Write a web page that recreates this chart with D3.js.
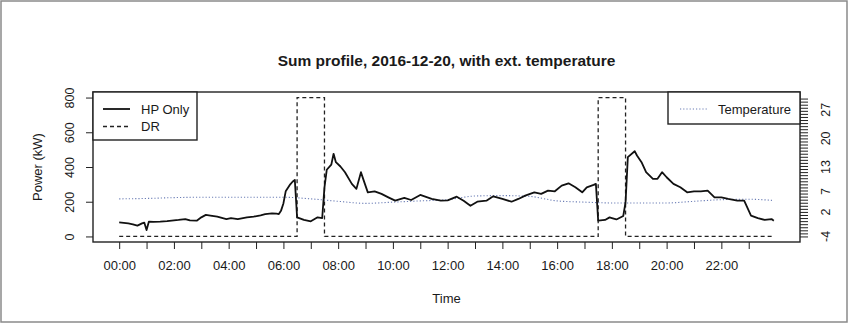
<!DOCTYPE html>
<html lang="en">
  <head>
    <meta charset="UTF-8" />
    <script src="https://d3js.org/d3.v7.min.js"></script>
    <title>Sum profile</title>
    <style>
      body { margin: 0; background: #fff; }
      text { font-family: "Liberation Sans", Arial, sans-serif; fill: #1a1a1a; }
    </style>
  </head>
  <body>
    <svg id="chart" width="849" height="325"></svg>
    <script>
      // HP Only profile (kW)
      const hpTimes = [
        "00:00","00:10","00:20","00:30","00:40","00:50","00:55","01:00","01:05","01:15",
        "01:30","01:45","01:55","02:10","02:25","02:35","02:50","03:00","03:10","03:20",
        "03:35","03:55","04:05","04:20","04:40","04:55","05:10","05:20","05:35","05:45",
        "05:50","05:55","06:00","06:05","06:15","06:20","06:25","06:30","06:45","07:00",
        "07:15","07:25","07:30","07:35","07:45","07:50","07:55","08:05","08:15","08:30",
        "08:40","08:50","08:55","09:05","09:20","09:35","09:50","10:05","10:25","10:40",
        "11:00","11:25","11:45","12:00","12:20","12:35","12:50","13:05","13:25","13:40",
        "14:00","14:20","14:35","14:50","15:10","15:25","15:40","15:55","16:10","16:25",
        "16:40","16:55","17:05","17:20","17:25","17:30","17:45","17:55","18:00","18:10",
        "18:25","18:30","18:35","18:50","18:55","19:05","19:15","19:30","19:40","19:50",
        "20:00","20:15","20:30","20:45","21:00","21:15","21:30","21:45","22:00","22:15",
        "22:35","22:50","22:55","23:05","23:20","23:35","23:50","23:55"
      ];
      const hpValues = [
        81, 78, 75, 70, 62, 75, 80, 37, 85, 84,
        85, 88, 91, 95, 100, 92, 91, 110, 124, 120,
        114, 100, 106, 100, 110, 114, 122, 129, 133, 131,
        129, 150, 190, 260, 300, 315, 326, 110, 95, 87,
        110, 106, 283, 384, 414, 476, 428, 403, 370, 303,
        274, 370, 330, 254, 260, 245, 225, 206, 222, 210,
        239, 216, 206, 208, 229, 206, 177, 200, 206, 231,
        216, 200, 216, 235, 254, 245, 264, 260, 293, 306,
        283, 254, 283, 297, 303, 91, 95, 110, 106, 98,
        118, 197, 457, 491, 466, 428, 370, 332, 332, 370,
        341, 303, 283, 254, 260, 260, 264, 225, 225, 216,
        206, 206, 177, 120, 106, 95, 100, 91
      ];

      // DR signal (steps)
      const drTimes = ["00:00", "06:30", "07:30", "17:30", "18:30", "23:55"];
      const drValues = [0, 800, 0, 800, 0, 0];

      // external temperature (deg C)
      const tempTimes = [
        "00:00","01:00","02:00","03:00","04:00","05:00","06:00","07:00","08:00","09:00",
        "10:00","11:00","12:00","13:00","14:00","15:00","16:00","17:00","18:00","19:00",
        "20:00","21:00","22:00","23:00","23:55"
      ];
      const tempValues = [
        5.2, 5.3, 5.5, 5.6, 5.6, 5.6, 5.6, 5.2, 4.6, 4.1,
        4.4, 4.7, 5.0, 5.9, 6.0, 5.8, 4.7, 4.4, 4.2, 4.2,
        4.2, 4.6, 5.0, 5.1, 4.8
      ];

      const powerTicks = [0, 200, 400, 600, 800];
      const tempTickLabels = [-4, 2, 7, 13, 20, 27];
      const tempRange = [-4, 30];

      const toHours = (s) => +s.slice(0, 2) + +s.slice(3) / 60;

      const box = { left: 93, right: 800, top: 92, bottom: 242 };

      // R style 4% padding on each side
      const pad = (lo, hi) => [lo - (hi - lo) * 0.04, hi + (hi - lo) * 0.04];
      const xMax = toHours(hpTimes[hpTimes.length - 1]);

      const x = d3.scaleLinear().domain(pad(0, xMax)).range([box.left, box.right]);
      const y = d3.scaleLinear().domain(pad(0, 800)).range([box.bottom, box.top]);
      const yT = d3.scaleLinear().domain(pad(...tempRange)).range([box.bottom, box.top]);

      const svg = d3.select("#chart");

      // outer frame
      svg.append("rect")
        .attr("x", 1).attr("y", 1)
        .attr("width", 846).attr("height", 321)
        .attr("fill", "#fff")
        .attr("stroke", "#8a8a8a")
        .attr("stroke-width", 1.5);

      svg.append("text")
        .attr("x", (box.left + box.right) / 2)
        .attr("y", 66)
        .attr("text-anchor", "middle")
        .style("font-size", "15.5px")
        .style("font-weight", "bold")
        .text("Sum profile, 2016-12-20, with ext. temperature");

      // temperature (dotted, behind)
      const tempLine = d3.line()
        .x((d, i) => x(toHours(tempTimes[i])))
        .y((d) => yT(d))
        .curve(d3.curveMonotoneX);

      svg.append("path")
        .attr("d", tempLine(tempValues))
        .attr("fill", "none")
        .attr("stroke", "#6b7db5")
        .attr("stroke-width", 1.1)
        .attr("stroke-dasharray", "1.2,2");

      // DR signal, dashed
      const drLine = d3.line()
        .x((d, i) => x(toHours(drTimes[i])))
        .y((d) => y(d))
        .curve(d3.curveStepAfter);

      svg.append("path")
        .attr("d", drLine(drValues))
        .attr("fill", "none")
        .attr("stroke", "#222")
        .attr("stroke-width", 1.3)
        .attr("stroke-dasharray", "4,3");

      // HP Only profile
      const hpLine = d3.line()
        .x((d, i) => x(toHours(hpTimes[i])))
        .y((d) => y(d));

      svg.append("path")
        .attr("d", hpLine(hpValues))
        .attr("fill", "none")
        .attr("stroke", "#111")
        .attr("stroke-width", 1.8)
        .attr("stroke-linejoin", "round");

      // axes
      const hourTicks = d3.range(0, 24);
      const xAxis = svg.append("g")
        .attr("transform", `translate(0,${box.bottom})`)
        .call(
          d3.axisBottom(x)
            .tickValues(hourTicks)
            .tickSize(7)
            .tickPadding(12)
            .tickFormat((h) => (h % 2 === 0 ? d3.format("02d")(h) + ":00" : ""))
        );
      xAxis.select(".domain").remove();
      xAxis.selectAll("text").style("font-size", "13px");

      const yAxis = svg.append("g")
        .attr("transform", `translate(${box.left},0)`)
        .call(d3.axisLeft(y).tickValues(powerTicks).tickSize(7).tickFormat(""));
      yAxis.select(".domain").remove();
      yAxis.selectAll(".tick")
        .append("text")
        .attr("transform", "translate(-23,0) rotate(-90)")
        .attr("text-anchor", "middle")
        .attr("dy", "0.35em")
        .style("font-size", "12.5px")
        .text((d) => d);

      // right temperature axis: dense comb of ticks, few labels
      const tAxis = svg.append("g")
        .attr("transform", `translate(${box.right},0)`)
        .call(d3.axisRight(yT).tickValues(d3.range(-4, 30.01, 0.75)).tickSize(8).tickFormat(""));
      tAxis.select(".domain").remove();
      tAxis.selectAll(".tick line").attr("stroke-width", 1);

      svg.append("g")
        .selectAll("text")
        .data(tempTickLabels)
        .enter()
        .append("text")
        .attr("transform", (d) => `translate(${box.right + 26},${yT(d)}) rotate(-90)`)
        .attr("text-anchor", "middle")
        .attr("dy", "0.35em")
        .style("font-size", "12.5px")
        .text((d) => d);

      svg.selectAll(".tick line").attr("stroke", "#222");

      // plot box
      svg.append("rect")
        .attr("x", box.left).attr("y", box.top)
        .attr("width", box.right - box.left)
        .attr("height", box.bottom - box.top)
        .attr("fill", "none")
        .attr("stroke", "#222")
        .attr("stroke-width", 1.4);

      svg.append("text")
        .attr("transform", `translate(37,${(box.top + box.bottom) / 2}) rotate(-90)`)
        .attr("text-anchor", "middle")
        .attr("dy", "0.35em")
        .style("font-size", "13px")
        .text("Power (kW)");

      svg.append("text")
        .attr("x", (box.left + box.right) / 2)
        .attr("y", 303)
        .attr("text-anchor", "middle")
        .style("font-size", "13px")
        .text("Time");

      // legends
      const legend = (lx, ly, w, h, items) => {
        const g = svg.append("g").attr("transform", `translate(${lx},${ly})`);
        g.append("rect")
          .attr("width", w).attr("height", h)
          .attr("fill", "#fff")
          .attr("stroke", "#222")
          .attr("stroke-width", 1.4);
        items.forEach((it, i) => {
          const yy = 17 + i * 17.5;
          g.append("line")
            .attr("x1", it.x1).attr("x2", it.x1 + 27)
            .attr("y1", yy).attr("y2", yy)
            .attr("stroke", it.color)
            .attr("stroke-width", it.width)
            .attr("stroke-dasharray", it.dash);
          g.append("text")
            .attr("x", it.x1 + 38)
            .attr("y", yy)
            .attr("dy", "0.35em")
            .style("font-size", "13px")
            .text(it.label);
        });
      };

      legend(box.left, box.top, 104, 48, [
        { label: "HP Only", color: "#111", width: 1.8, dash: null, x1: 10 },
        { label: "DR", color: "#222", width: 1.3, dash: "4,3", x1: 10 },
      ]);
      legend(668, box.top, box.right - 668, 32, [
        { label: "Temperature", color: "#6b7db5", width: 1.1, dash: "1.2,2", x1: 12 },
      ]);
    </script>
  </body>
</html>
